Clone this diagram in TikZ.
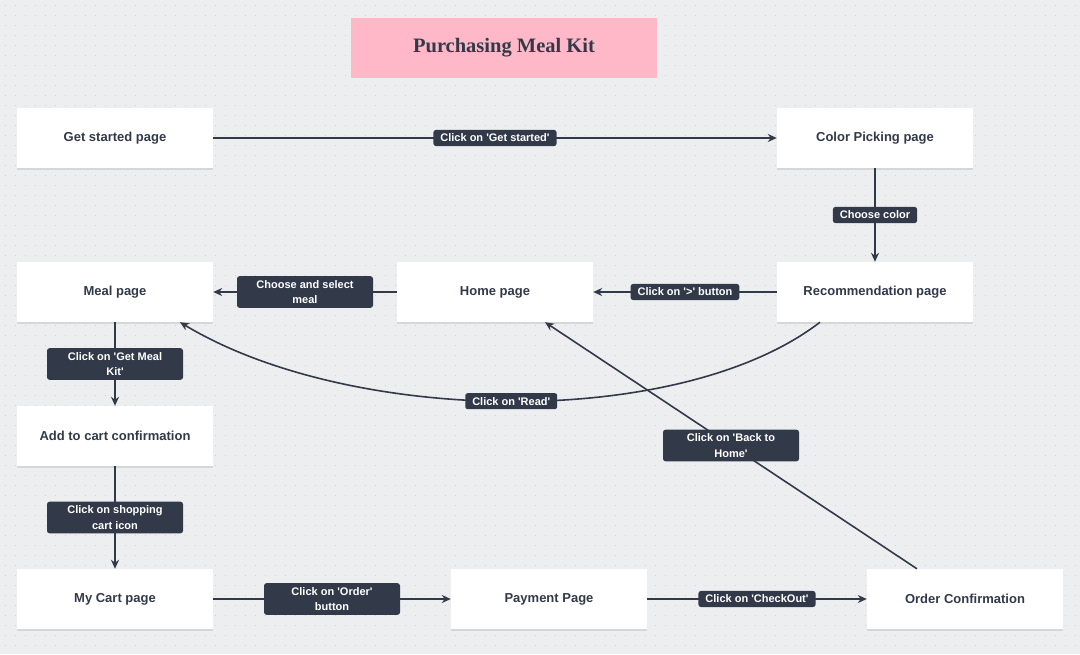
\documentclass[tikz,border=0pt]{standalone}
\usepackage{fontspec}
\setmainfont{Liberation Sans}
\newfontfamily\titlefont{Liberation Serif}
\usepackage{tikz}
\usetikzlibrary{
	arrows.meta,
	positioning,
	calc,
	shadows
}
\usepackage{xcolor}
\definecolor{canvas}{HTML}{EDEEF0}
\definecolor{griddot}{HTML}{CDD0D5}
\definecolor{ink}{HTML}{323A49}
\definecolor{titlepink}{HTML}{FFB8C8}
\newcommand{\sq}{\textquotesingle}

\tikzset{
	page/.style={rectangle,fill=white,minimum width=196pt,minimum height=60pt,
		text=ink,font=\fontsize{13}{15}\selectfont\bfseries,
		drop shadow={shadow xshift=0pt,shadow yshift=-1.5pt,fill=black!25,opacity=0.5}},
	lbl/.style={rectangle,rounded corners=2.5pt,fill=ink,text=white,align=center,
		inner xsep=7pt,inner ysep=4pt,font=\fontsize{11}{15.5}\selectfont\bfseries},
	lbltwo/.style={lbl,minimum width=136pt},
	flow/.style={->,draw=ink,line width=1.6pt}
}

\begin{document}
\begin{tikzpicture}[x=1pt,y=-1pt,>={Stealth[length=9pt,width=8pt]}]
			
			% canvas with dot grid
			\fill[canvas] (0,0) rectangle (1080,654);
			\useasboundingbox (0,0) rectangle (1080,654);
			\foreach \gy in {5,15,...,650}
			\draw[griddot,line width=1pt,dash pattern=on 1pt off 9pt] (5,\gy) -- (1080,\gy);
			
			\node[rectangle,fill=titlepink,minimum width=306pt,minimum height=60pt,
			text=ink,font=\titlefont\fontsize{20.5}{24}\selectfont\bfseries] (title) at (504,48) {Purchasing Meal Kit};
			
			\node[page] (start) at (115,138) {Get started page};
			\node[page] (color) at (875,138) {Color Picking page};
			
			\node[page] (rec) at (875,292) {Recommendation page};
			\node[page] (home) at (495,292) {Home page};
			\node[page] (meal) at (115,292) {Meal page};
			
			\node[page] (cart) at (115,436) {Add to cart confirmation};
			
			\node[page] (mycart) at (115,599) {My Cart page};
			\node[page] (pay) at (549,599) {Payment Page};
			\node[page] (order) at (965,599) {Order Confirmation};
			
			\draw[flow] (start)--(color)
			node[midway,lbl] {Click on \sq Get started\sq};
			
			\draw[flow] (color)--(rec)
			node[midway,lbl] {Choose color};
			
			\draw[flow] (rec)--(home)
			node[midway,lbl] {Click on \sq>\sq{} button};
			
			\draw[flow] (home)--(meal)
			node[midway,lbltwo] {Choose and select\\meal};
			
			\draw[flow] (meal)--(cart)
			node[midway,lbltwo] {Click on \sq Get Meal\\Kit\sq};
			
			\draw[flow] (cart)--(mycart)
			node[midway,lbltwo] {Click on shopping\\cart icon};
			
			\draw[flow] (mycart)--(pay)
			node[midway,lbltwo] {Click on \sq Order\sq\\button};
			
			\draw[flow] (pay)--(order)
			node[midway,lbl] {Click on \sq CheckOut\sq};
			
			\draw[flow] ([xshift=-55pt]rec.south)
			.. controls (680,430) and (350,425) .. ([xshift=65pt]meal.south)
			node[pos=0.5,lbl] {Click on \sq Read\sq};
			
			\draw[flow] ([xshift=-48pt]order.north)--([xshift=50pt]home.south)
			node[midway,lbltwo] {Click on \sq Back to\\Home\sq};
			
		\end{tikzpicture}
\end{document}
